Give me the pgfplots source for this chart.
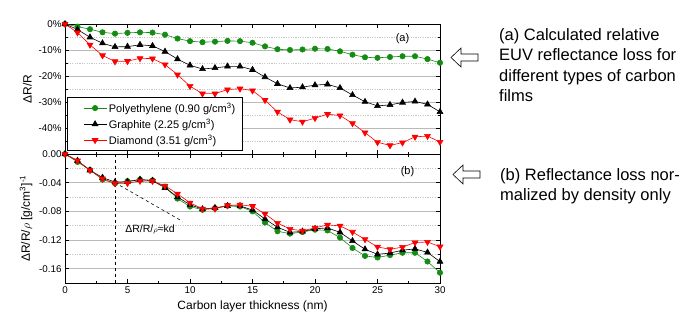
\documentclass[border=0pt]{standalone}
\usepackage{fontspec}
\setmainfont{Liberation Sans}
\usepackage{pgfplots}
\pgfplotsset{compat=1.18}
\definecolor{pgreen}{RGB}{20,140,20}
\definecolor{pred}{RGB}{255,0,0}

\pgfplotsset{
 myaxis/.style={
  scale only axis, width=375pt,
  xmin=0, xmax=30, xtick={0,5,10,15,20,25,30}, minor xtick={2.5,7.5,12.5,17.5,22.5,27.5},
  tick align=inside, major tick length=4pt, minor tick length=2.5pt,
  axis line style={line width=0.7pt},
  every tick/.style={black, line width=0.6pt},
  ymajorgrids, yminorgrids,
  major grid style={gray!55, line width=0.9pt},
  minor grid style={gray!45, dash pattern=on 1.2pt off 1.2pt, line width=0.4pt},
  tick label style={font=\fontsize{9.8}{11}\selectfont},
  label style={font=\fontsize{12}{14}\selectfont},
  /pgf/number format/assume math mode=true,
 },
 pe/.style={pgreen, line width=0.6pt, mark=*, mark size=2.7pt, mark options={solid, fill=pgreen, draw=pgreen}},
 gr/.style={black, line width=0.6pt, mark=triangle*, mark size=3.4pt, mark options={solid, fill=black}},
 di/.style={pred, line width=0.6pt, mark=triangle*, mark size=3.4pt, mark options={solid, fill=pred, rotate=180}},
}

\pgfplotstableread{
x pe gr di
0 0 0 0
1 -1.0 -2.1 -3.3
2 -2.0 -5.1 -8.0
3 -3.2 -7.4 -12.1
4 -3.7 -8.8 -14.4
5 -3.4 -8.7 -14.3
6 -3.2 -8.0 -13.2
7 -3.3 -8.4 -13.3
8 -4.1 -10.6 -15.6
9 -5.6 -13.5 -19.5
10 -6.6 -15.9 -23.9
11 -7.0 -17.3 -26.8
12 -6.8 -16.9 -26.8
13 -6.5 -16.3 -25.2
14 -6.6 -16.3 -24.9
15 -7.2 -17.6 -25.6
16 -8.6 -20.4 -29.3
17 -9.7 -23.0 -33.8
18 -10.0 -24.6 -36.8
19 -9.8 -24.3 -37.6
20 -9.5 -23.5 -36.2
21 -9.6 -23.2 -34.7
22 -10.5 -24.6 -35.2
23 -11.8 -27.3 -38.2
24 -12.8 -29.9 -41.8
25 -13.0 -31.5 -45.5
26 -12.7 -31.1 -46.7
27 -12.4 -30.2 -45.6
28 -12.4 -29.8 -43.4
29 -13.5 -30.9 -43.1
30 -14.9 -33.8 -45.4
}\toptable

\pgfplotstableread{
x pe gr di
0 0 0 0
1 -0.0111 -0.0093 -0.0094
2 -0.0222 -0.0227 -0.0228
3 -0.0356 -0.0329 -0.0345
4 -0.0411 -0.0391 -0.0410
5 -0.0378 -0.0387 -0.0407
6 -0.0356 -0.0356 -0.0376
7 -0.0367 -0.0373 -0.0379
8 -0.0456 -0.0471 -0.0444
9 -0.0622 -0.0600 -0.0556
10 -0.0733 -0.0707 -0.0681
11 -0.0778 -0.0769 -0.0764
12 -0.0756 -0.0751 -0.0764
13 -0.0722 -0.0724 -0.0718
14 -0.0733 -0.0724 -0.0709
15 -0.0800 -0.0782 -0.0729
16 -0.0956 -0.0907 -0.0835
17 -0.1078 -0.1022 -0.0963
18 -0.1111 -0.1093 -0.1048
19 -0.1089 -0.1080 -0.1071
20 -0.1056 -0.1044 -0.1031
21 -0.1067 -0.1031 -0.0989
22 -0.1167 -0.1093 -0.1003
23 -0.1311 -0.1213 -0.1088
24 -0.1422 -0.1329 -0.1191
25 -0.1444 -0.1400 -0.1296
26 -0.1411 -0.1382 -0.1330
27 -0.1378 -0.1342 -0.1299
28 -0.1378 -0.1324 -0.1236
29 -0.1500 -0.1373 -0.1228
30 -0.1656 -0.1502 -0.1293
}\bottable

\begin{document}
\begin{tikzpicture}
\path[use as bounding box] (0pt,0pt) rectangle (693pt,-327pt);

\begin{axis}[myaxis, at={(65pt,-24pt)}, anchor=north west, height=130pt,
  ymin=-50, ymax=0, ytick={0,-10,-20,-30,-40},
  yticklabels={0\%,-10\%,-20\%,-30\%,-40\%},
  minor ytick={-5,-15,-25,-35,-45},
  xticklabels={},
  ylabel={ΔR/R},
  legend style={at={(0.005,0.023)}, anchor=south west, draw=black, line width=0.8pt,
    font=\fontsize{11}{13}\selectfont, cells={anchor=west}, inner xsep=5pt, inner ysep=3pt, row sep=1.2pt},
  legend cell align=left,
  legend image code/.code={\path (-11pt,0pt); \draw[mark repeat=2,mark phase=2] plot coordinates {(0pt,0pt) (11.5pt,0pt) (23pt,0pt)};},
]
\addplot[pe] table[x=x,y=pe] {\toptable};
\addlegendentry{Polyethylene (0.90 g/cm\textsuperscript{3})}
\addplot[gr] table[x=x,y=gr] {\toptable};
\addlegendentry{Graphite (2.25 g/cm\textsuperscript{3})}
\addplot[di] table[x=x,y=di] {\toptable};
\addlegendentry{Diamond (3.51 g/cm\textsuperscript{3})}
\node[font=\fontsize{11}{13}\selectfont] at (axis cs:27,-5.6) {(a)};
\end{axis}

\begin{axis}[myaxis, at={(65pt,-154pt)}, anchor=north west, height=129pt,
  ymin=-0.18, ymax=0, ytick={0,-0.04,-0.08,-0.12,-0.16},
  yticklabels={0.00,-0.04,-0.08,-0.12,-0.16},
  minor ytick={-0.02,-0.06,-0.10,-0.14},
  xlabel={Carbon layer thickness (nm)},
  ylabel={ΔR/R/$\rho$ [g/cm\textsuperscript{3}]\textsuperscript{-1}},
]
\addplot[black, dashed, line width=0.6pt, forget plot] coordinates {(4,0) (4,-0.18)};
\addplot[black, dashed, line width=0.6pt, forget plot] coordinates {(4.4,-0.044) (9.4,-0.094)};
\addplot[pe] table[x=x,y=pe] {\bottable};
\addplot[gr] table[x=x,y=gr] {\bottable};
\addplot[di] table[x=x,y=di] {\bottable};
\node[font=\fontsize{10.5}{12}\selectfont] at (axis cs:6.8,-0.105) {ΔR/R/{\fontsize{8}{9}\selectfont$\rho$}≈kd};
\node[font=\fontsize{11}{13}\selectfont] at (axis cs:27.4,-0.024) {(b)};
\end{axis}

% arrows
\draw[line width=0.6pt] (451pt,-57.5pt) -- (461pt,-48pt) -- (461pt,-54pt) -- (478pt,-54pt) -- (478pt,-61pt) -- (461pt,-61pt) -- (461pt,-67pt) -- cycle;
\draw[line width=0.6pt] (453pt,-174.5pt) -- (463pt,-165pt) -- (463pt,-171pt) -- (480pt,-171pt) -- (480pt,-178pt) -- (463pt,-178pt) -- (463pt,-184pt) -- cycle;

% side texts
\begin{scope}[every node/.style={anchor=base west, inner sep=0pt, font=\fontsize{16.5}{20}\selectfont}]
\node at (499pt,-40pt) {(a) Calculated relative};
\node at (499pt,-60.5pt) {EUV reflectance loss for};
\node at (499pt,-81pt) {different types of carbon};
\node at (499pt,-101.5pt) {films};
\node at (500pt,-180pt) {(b) Reflectance loss nor-};
\node at (500pt,-200.5pt) {malized by density only};
\end{scope}
\end{tikzpicture}
\end{document}
